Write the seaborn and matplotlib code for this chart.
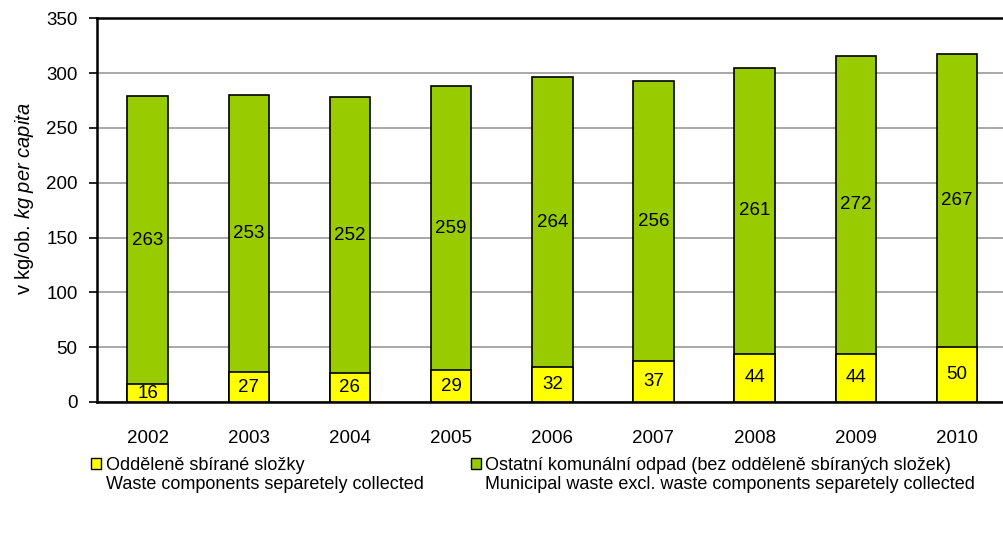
import numpy as np
import pandas as pd
import seaborn as sns
import matplotlib.pyplot as plt
from matplotlib.patches import Patch

# values (kg per capita)
years = ["2002", "2003", "2004", "2005", "2006", "2007", "2008", "2009", "2010"]
separated = [16, 27, 26, 29, 32, 37, 44, 44, 50]
other = [263, 253, 252, 259, 264, 256, 261, 272, 267]

sep_cz = "Odděleně sbírané složky"
sep_en = "Waste components separetely collected"
other_cz = "Ostatní komunální odpad (bez odděleně sbíraných složek)"
other_en = "Municipal waste excl. waste components separetely collected"

sns.set_style("white")
plt.rcParams['font.family'] = ['Liberation Sans', 'DejaVu Sans']
plt.rcParams['mathtext.fontset'] = 'custom'
plt.rcParams['mathtext.rm'] = 'Liberation Sans'
plt.rcParams['mathtext.it'] = 'Liberation Sans:italic'
for key in ['text.color', 'axes.labelcolor', 'xtick.color', 'ytick.color']:
    plt.rcParams[key] = 'black'

df = pd.DataFrame({"year": years, "sep": separated, "other": other})
df["total"] = df["sep"] + df["other"]

fig = plt.figure(figsize=(10.04, 5.33), dpi=100)
ax = fig.add_axes([0.0966, 0.2458, 0.907, 0.72])

green = "#99cc00"
yellow = "#ffff00"
fs = 13.5
sns.barplot(data=df, x="year", y="total", color=green, width=0.4,
            edgecolor="black", linewidth=1.2, saturation=1, ax=ax, zorder=3)
sns.barplot(data=df, x="year", y="sep", color=yellow, width=0.4,
            edgecolor="black", linewidth=1.2, saturation=1, ax=ax, zorder=3)

for i, row in df.iterrows():
    ax.text(i, row["sep"] / 2, str(row["sep"]), ha="center", va="center",
            fontsize=fs, zorder=4)
    ax.text(i, row["sep"] + row["other"] / 2, str(row["other"]), ha="center",
            va="center", fontsize=fs, zorder=4)

ax.set_ylim(0, 350)
ax.set_xlim(-0.5, len(years) - 0.5)
ax.set_yticks(range(0, 351, 50))
ax.yaxis.grid(True, color="#999999", linewidth=1.2, zorder=0)
ax.set_axisbelow(True)

ax.set_xticks(np.arange(len(years)))
ax.set_xticklabels(years)
ax.set_xticks(np.arange(len(years)) - 0.5, minor=True)
ax.tick_params(axis="x", which="major", length=0, pad=20, labelsize=fs)
ax.tick_params(axis="x", which="minor", length=6, width=1.2, color="black",
               direction="out")
ax.tick_params(axis="y", length=6, width=1.2, color="black", direction="out",
               labelsize=fs, left=True, pad=8)

for side in ["left", "bottom", "top"]:
    ax.spines[side].set_color("black")
    ax.spines[side].set_linewidth(1.8)
ax.spines["right"].set_visible(False)

ax.set_xlabel("")
ax.set_ylabel(r"v kg/ob. $\it{kg\ per\ capita}$", fontsize=14.5)
ax.yaxis.set_label_coords(-0.067, 0.53)

# legend: two separate entries, first line next to the marker, second below
entries = [(yellow, sep_cz, sep_en, 0.091), (green, other_cz, other_en, 0.469)]
inv = fig.transFigure.inverted()
for color, first, second, xpos in entries:
    leg = fig.legend([Patch(facecolor=color, edgecolor="black", linewidth=1)],
                     [first], loc="upper left", bbox_to_anchor=(xpos, 0.142),
                     frameon=False, fontsize=13, handlelength=0.55,
                     handleheight=0.55, handletextpad=0.25,
                     borderpad=0, borderaxespad=0)
    fig.canvas.draw()
    bb = leg.get_texts()[0].get_window_extent()
    x0, y0 = inv.transform((bb.x0, bb.y0))
    fig.text(x0, y0 - 0.004, second, fontsize=13, ha="left", va="top")

fig.savefig("out.png", dpi=100)
